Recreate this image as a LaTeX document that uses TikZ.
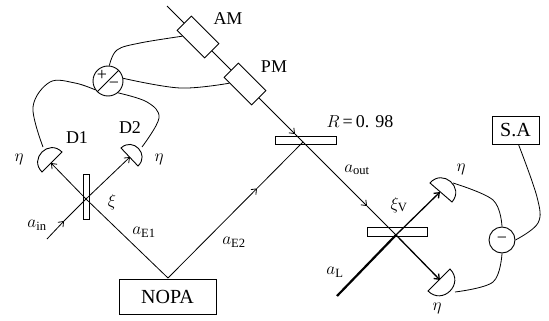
\documentclass[tikz,border=0pt]{standalone}
\usepackage{amsmath}
\usepackage{fontspec}
\setmainfont{Liberation Serif}
\usetikzlibrary{calc,arrows.meta}
\tikzset{
  beam/.style={line width=0.8pt,>={Straight Barb[length=4.5pt,width=7pt]}},
  wire/.style={line width=0.8pt},
  plate/.style={draw,fill=white,line width=0.9pt,inner sep=0pt},
  box/.style={draw,line width=0.9pt,inner sep=0pt},
  lab/.style={inner sep=0pt,font=\fontsize{18}{18}\selectfont},
  biglab/.style={inner sep=0pt,font=\fontsize{20}{20}\selectfont}
}
\newcommand{\detector}[2]{\draw[line width=0.9pt,fill=white] (#1) .. controls ($(#1)!0.667!90:(#2)$) and ($(#2)!0.667!-90:(#1)$) .. (#2) -- cycle;}
\begin{document}
\begin{tikzpicture}[x=1pt,y=-1pt]
\useasboundingbox (0,0) rectangle (549,321);
% Points on the beams
\coordinate (top) at (167,6);
\coordinate (crossR) at (303,142);
\coordinate (crossV) at (396,235);
\coordinate (crossX) at (86,199);
\coordinate (source) at (168,278);
\coordinate (ain) at (47,239);
\coordinate (aL) at (337,296);
\coordinate (arrR) at (295,134);
\coordinate (arrV) at (367,206);
\coordinate (arrE) at (257,188.4);
\coordinate (arrin) at (64,221);

% Detectors
\coordinate (D1a) at (42,172);
\coordinate (D1b) at (62,152);
\coordinate (D2a) at (121,148);
\coordinate (D2b) at (138,166);
\coordinate (D3a) at (430,183);
\coordinate (D3b) at (452,202);
\coordinate (D4a) at (450,269);
\coordinate (D4b) at (428,291);
\detector{D1a}{D1b}
\detector{D2a}{D2b}
\detector{D3a}{D3b}
\detector{D4a}{D4b}

% Plates
\node[plate,minimum width=6pt,minimum height=45pt] (BS) at (86,197) {};
\node[plate,minimum width=61pt,minimum height=8pt] (mirror) at (305.5,140) {};
\node[plate,minimum width=60pt,minimum height=9pt] (BSV) at (397,231.5) {};

% Beams
\draw[beam,->] (top) -- (arrR);
\draw[beam] (arrR) -- (crossR);
\draw[beam,->] (crossR) -- (arrV);
\draw[beam] (arrV) -- (crossV);
\draw[beam] (source) -- (crossX);
\draw[beam,->] (crossX) -- (51,163);
\draw[beam,->] (ain) -- (arrin);
\draw[beam] (arrin) -- (crossX);
\draw[beam,->] (crossX) -- (130,157);
\draw[beam,->] (source) -- (arrE);
\draw[beam] (arrE) -- (crossR);
\draw[line width=2.2pt] (aL) -- (crossV);
\draw[beam,line width=1.3pt,->] (crossV) -- (440,192);
\draw[beam,line width=1.3pt,->] (crossV) -- (440,280);

% Modulators
\node[plate,rotate=-45,minimum width=39pt,minimum height=20pt] (AM) at (198,37) {};
\node[plate,rotate=-45,minimum width=39pt,minimum height=20pt] (PM) at (245,84) {};
\node[lab] (AMlab) at (228,19) {AM};
\node[lab] (PMlab) at (274,67) {PM};

% Boxes
\node[box,minimum width=97pt,minimum height=35pt,biglab] (NOPA) at (167.5,296.5) {NOPA};
\node[box,minimum width=47pt,minimum height=28pt,biglab] (SA) at (515.5,130) {S.A};

% Subtractors
\node[draw,circle,line width=0.9pt,minimum size=30pt,inner sep=0pt] (diff) at (108,81) {};
\draw[wire] (diff.225) -- (diff.45);
\node[lab] (plus) at (102,75.5) {+};
\node[lab] (minus) at (114,85) {\textminus};
\node[draw,circle,line width=0.9pt,minimum size=26pt,inner sep=0pt,lab] (diffV) at (502,240) {\textminus};

% Wires
\draw[wire] plot[smooth,tension=0.6] coordinates {(AM.222) (140,43) (117,50) (diff.85)};
\draw[wire] plot[smooth,tension=0.6] coordinates {(PM.222) (180,88) (diff.10)};
\draw[wire] plot[smooth,tension=0.6] coordinates {(43,147) (33,107) (50,82) (75,83) (diff.215)};
\draw[wire] plot[smooth,tension=0.6] coordinates {(142,147) (159,118) (147,102) (diff.-50)};
\draw[wire] plot[smooth,tension=0.6] coordinates {(453,183) (493,200) (diffV.north)};
\draw[wire] plot[smooth,tension=0.6] coordinates {(455,292) (493,282) (diffV.south)};
\draw[wire] plot[smooth,tension=0.6] coordinates {(diffV.east) (538,223) (537,197) ([xshift=3pt]SA.south)};

% Labels
\node[lab] (D1lab) at (77,138) {D1};
\node[lab] (D2lab) at (130,128) {D2};
\node[lab] (eta1) at (19,159) {$\eta$};
\node[lab] (eta2) at (159,159) {$\eta$};
\node[lab] (eta3) at (461,169) {$\eta$};
\node[lab] (eta4) at (437,308) {$\eta$};
\node[lab] (xi) at (112,202) {$\xi$};
\node[lab] (xiV) at (399,205) {$\xi_{\mathrm{V}}$};
\node[lab] (ainlab) at (37,225) {$a_{\mathrm{in}}$};
\node[lab] (aE1) at (144,232) {$a_{\mathrm{E1}}$};
\node[lab] (aE2) at (234,242) {$a_{\mathrm{E2}}$};
\node[lab] (aout) at (357,170) {$a_{\mathrm{out}}$};
\node[lab] (aLlab) at (335,272) {$a_{\mathrm{L}}$};
\node[lab] (Rlab) at (360,122) {$R$\,=\,0. 98};
\end{tikzpicture}
\end{document}
